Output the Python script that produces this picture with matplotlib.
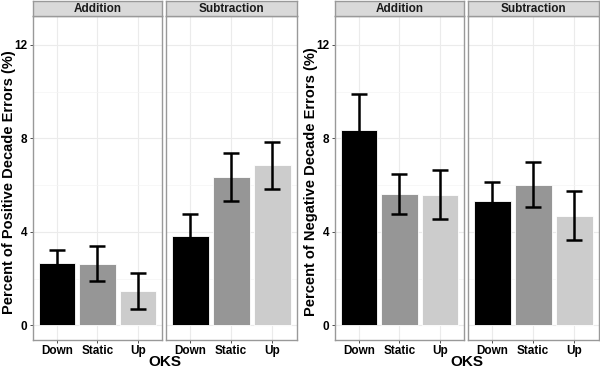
import matplotlib.pyplot as plt
from matplotlib import font_manager

# keep the bold text on regular Liberation Sans, not its Narrow variant
font_manager.fontManager.ttflist = [f for f in font_manager.fontManager.ttflist
                                    if 'Narrow' not in f.name]
plt.rcParams['font.family'] = ['Liberation Sans', 'DejaVu Sans']
plt.rcParams['font.weight'] = 'bold'

oks = ['Down', 'Static', 'Up']
operations = ['Addition', 'Subtraction']
bar_colors = ['#000000', '#969696', '#cccccc']

# positive decade errors (%)
pos_add = [2.66, 2.63, 1.48]
pos_add_se = [0.55, 0.75, 0.77]
pos_sub = [3.83, 6.33, 6.85]
pos_sub_se = [0.92, 1.03, 1.01]

# negative decade errors (%)
neg_add = [8.36, 5.62, 5.59]
neg_add_se = [1.53, 0.84, 1.05]
neg_sub = [5.30, 6.02, 4.69]
neg_sub_se = [0.81, 0.97, 1.04]

W, H = 600, 368
fig = plt.figure(figsize=(6, 3.68), dpi=100)


def px_axes(x0, y0, x1, y1):
    # pixel box (top-left origin) -> figure axes
    return fig.add_axes([x0 / W, 1 - y1 / H, (x1 - x0) / W, (y1 - y0) / H])


def panel(x0, x1, title, vals, errs, show_y):
    ax = px_axes(x0, 16, x1, 340)
    xs = range(1, len(oks) + 1)
    ax.bar(xs, vals, width=0.9, color=bar_colors, edgecolor='white', linewidth=0.6, zorder=2)
    ax.errorbar(xs, vals, yerr=errs, fmt='none', ecolor='black', elinewidth=1.8,
                capsize=6, capthick=1.8, zorder=3)
    ax.set_xlim(0.4, 3.6)
    ax.set_ylim(-0.63, 13.23)
    ax.set_xticks(list(xs))
    ax.set_xticklabels(oks, fontsize=8.5, fontweight='bold', color='black')
    ax.set_yticks([0, 4, 8, 12])
    ax.set_yticks([2, 6, 10], minor=True)
    if show_y:
        ax.set_yticklabels(['0', '4', '8', '12'], fontsize=8.5, fontweight='bold', color='black')
    else:
        ax.set_yticklabels([])
    ax.tick_params(axis='both', which='major', length=2.5, width=0.6, color='#333333', pad=1.5)
    ax.tick_params(axis='x', which='major', pad=0.8)
    ax.tick_params(axis='y', which='minor', length=0)
    if not show_y:
        ax.tick_params(axis='y', which='major', length=0)
    ax.grid(True, which='major', color='#ebebeb', linewidth=0.8, zorder=0)
    ax.grid(True, which='minor', axis='y', color='#f4f4f4', linewidth=0.5, zorder=0)
    ax.set_axisbelow(True)
    for s in ax.spines.values():
        s.set_color('#999999')
        s.set_linewidth(1.0)
    strip = px_axes(x0, 1, x1, 16)
    strip.set_facecolor('#d9d9d9')
    strip.set_xticks([])
    strip.set_yticks([])
    for s in strip.spines.values():
        s.set_color('#999999')
        s.set_linewidth(1.0)
    strip.text(0.5, 0.45, title, ha='center', va='center', fontsize=8.5, fontweight='bold',
               color='#1a1a1a', transform=strip.transAxes)
    return ax


def figure_half(off, add, add_se, sub, sub_se, ylabel):
    panel(off + 32.5, off + 162.3, operations[0], add, add_se, True)
    panel(off + 165.7, off + 296.7, operations[1], sub, sub_se, False)
    fig.text((off + 164.5) / W, 1 - 366.5 / H, 'OKS', ha='center', va='baseline',
             fontsize=11, fontweight='bold')
    fig.text((off + 9) / W, 1 - 182 / H, ylabel, ha='center', va='center',
             rotation=90, fontsize=10.5, fontweight='bold')


figure_half(0, pos_add, pos_add_se, pos_sub, pos_sub_se, 'Percent of Positive Decade Errors (%)')
figure_half(302, neg_add, neg_add_se, neg_sub, neg_sub_se, 'Percent of Negative Decade Errors (%)')

fig.savefig('out.png', dpi=100)
